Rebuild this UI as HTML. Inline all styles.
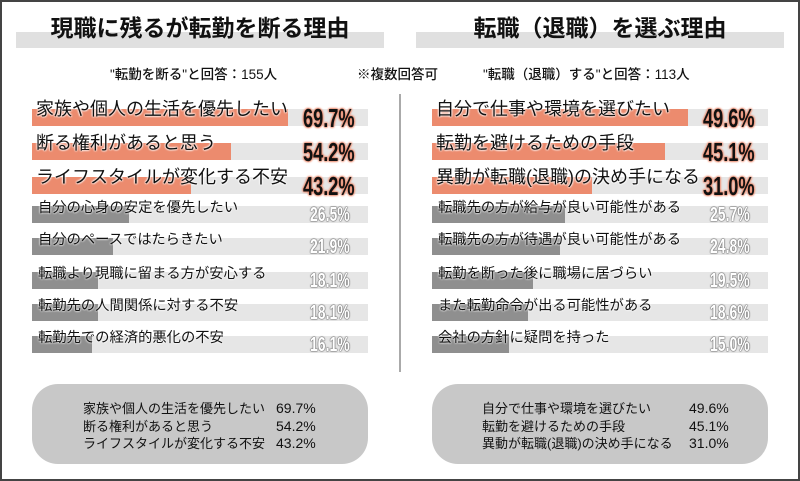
<!DOCTYPE html>
<html><head><meta charset="utf-8"><style>
*{margin:0;padding:0;box-sizing:border-box}
body{width:800px;height:481px;position:relative;background:#fff;overflow:hidden;font-family:"Liberation Sans","Noto Sans CJK JP",sans-serif;color:#222}
.frame{position:absolute;left:0;top:0;width:800px;height:481px;border:2px solid #444}
.a{position:absolute;white-space:nowrap}
.band{position:absolute;height:16px;background:#e0e0e0;top:32px}
.title{position:absolute;top:9px;font-size:23px;font-weight:bold;width:368px;text-align:center;color:#111}
.sub{font-size:13.5px;top:63px;color:#111;font-weight:500}
.bg{position:absolute;height:17px;background:#e6e6e6;width:336px}
.bar{position:absolute;height:17px}
.o{background:#ec8b6e}
.g{background:#8f8f8f}
.lo{font-size:18px;color:#111;text-shadow:0 0 2px #fff,0 0 2px #fff,0 0 2px #fff}
.lg{font-size:14.3px;color:#111;text-shadow:0 0 2px #fff,0 0 2px #fff}
.po{font-weight:bold;font-size:26px;color:#111;transform:scaleX(0.7);transform-origin:0 0;text-shadow:0 0 2px #ec8b6e,0 0 2px #ec8b6e,0 0 3px #ec8b6e,0 0 3px #ec8b6e}
.pg{font-weight:bold;font-size:20px;color:#fff;transform:scaleX(0.7);transform-origin:0 0;text-shadow:0 0 1px #666,0 0 1px #666,0 0 1px #666,0 0 2px #666}
.box{position:absolute;top:384px;width:336px;height:80px;background:#c8c8c8;border-radius:26px}
.bt{font-size:13px;color:#111;line-height:17.5px}
.vl{position:absolute;left:399px;top:94px;width:2px;height:278px;background:#aaa}
</style></head><body>
<div class="frame"></div>
<div class="band" style="left:16px;width:368px"></div>
<div class="band" style="left:416px;width:368px"></div>
<div class="title" style="left:16px">現職に残るが転勤を断る理由</div>
<div class="title" style="left:416px">転職（退職）を選ぶ理由</div>
<div class="a sub" style="left:110px">"転勤を断る"と回答：155人</div>
<div class="a sub" style="left:357px">※複数回答可</div>
<div class="a sub" style="left:483px">"転職（退職）する"と回答：113人</div>
<div class="vl"></div>

<div class="bg" style="left:32px;top:109px"></div><div class="bar o" style="left:32px;top:109px;width:256px"></div>
<div class="bg" style="left:32px;top:143px"></div><div class="bar o" style="left:32px;top:143px;width:199px"></div>
<div class="bg" style="left:32px;top:177px"></div><div class="bar o" style="left:32px;top:177px;width:159px"></div>
<div class="bg" style="left:32px;top:206px"></div><div class="bar g" style="left:32px;top:206px;width:97px"></div>
<div class="bg" style="left:32px;top:238px"></div><div class="bar g" style="left:32px;top:238px;width:81px"></div>
<div class="bg" style="left:32px;top:272px"></div><div class="bar g" style="left:32px;top:272px;width:66px"></div>
<div class="bg" style="left:32px;top:304px"></div><div class="bar g" style="left:32px;top:304px;width:66px"></div>
<div class="bg" style="left:32px;top:336px"></div><div class="bar g" style="left:32px;top:336px;width:60px"></div>
<div class="a lo" style="left:36px;top:95px">家族や個人の生活を優先したい</div>
<div class="a lo" style="left:36px;top:129px">断る権利があると思う</div>
<div class="a lo" style="left:36px;top:163px">ライフスタイルが変化する不安</div>
<div class="a lg" style="left:38px;top:196px">自分の心身の安定を優先したい</div>
<div class="a lg" style="left:38px;top:228px">自分のペースではたらきたい</div>
<div class="a lg" style="left:38px;top:262px">転職より現職に留まる方が安心する</div>
<div class="a lg" style="left:38px;top:294px">転勤先の人間関係に対する不安</div>
<div class="a lg" style="left:38px;top:326px">転勤先での経済的悪化の不安</div>
<div class="a po" style="left:303px;top:103px">69.7%</div>
<div class="a po" style="left:303px;top:137px">54.2%</div>
<div class="a po" style="left:303px;top:171px">43.2%</div>
<div class="a pg" style="left:310px;top:204px">26.5%</div>
<div class="a pg" style="left:310px;top:236px">21.9%</div>
<div class="a pg" style="left:310px;top:270px">18.1%</div>
<div class="a pg" style="left:310px;top:302px">18.1%</div>
<div class="a pg" style="left:310px;top:334px">16.1%</div>

<div class="bg" style="left:432px;top:109px"></div><div class="bar o" style="left:432px;top:109px;width:256px"></div>
<div class="bg" style="left:432px;top:143px"></div><div class="bar o" style="left:432px;top:143px;width:233px"></div>
<div class="bg" style="left:432px;top:177px"></div><div class="bar o" style="left:432px;top:177px;width:160px"></div>
<div class="bg" style="left:432px;top:206px"></div><div class="bar g" style="left:432px;top:206px;width:133px"></div>
<div class="bg" style="left:432px;top:238px"></div><div class="bar g" style="left:432px;top:238px;width:128px"></div>
<div class="bg" style="left:432px;top:272px"></div><div class="bar g" style="left:432px;top:272px;width:101px"></div>
<div class="bg" style="left:432px;top:304px"></div><div class="bar g" style="left:432px;top:304px;width:96px"></div>
<div class="bg" style="left:432px;top:336px"></div><div class="bar g" style="left:432px;top:336px;width:77px"></div>
<div class="a lo" style="left:436px;top:95px">自分で仕事や環境を選びたい</div>
<div class="a lo" style="left:436px;top:129px">転勤を避けるための手段</div>
<div class="a lo" style="left:436px;top:163px">異動が転職(退職)の決め手になる</div>
<div class="a lg" style="left:438px;top:196px">転職先の方が給与が良い可能性がある</div>
<div class="a lg" style="left:438px;top:228px">転職先の方が待遇が良い可能性がある</div>
<div class="a lg" style="left:438px;top:262px">転勤を断った後に職場に居づらい</div>
<div class="a lg" style="left:438px;top:294px">また転勤命令が出る可能性がある</div>
<div class="a lg" style="left:438px;top:326px">会社の方針に疑問を持った</div>
<div class="a po" style="left:703px;top:103px">49.6%</div>
<div class="a po" style="left:703px;top:137px">45.1%</div>
<div class="a po" style="left:703px;top:171px">31.0%</div>
<div class="a pg" style="left:710px;top:204px">25.7%</div>
<div class="a pg" style="left:710px;top:236px">24.8%</div>
<div class="a pg" style="left:710px;top:270px">19.5%</div>
<div class="a pg" style="left:710px;top:302px">18.6%</div>
<div class="a pg" style="left:710px;top:334px">15.0%</div>

<div class="box" style="left:32px"></div>
<div class="box" style="left:432px"></div>
<div class="a bt" style="left:83px;top:400px">家族や個人の生活を優先したい<br>断る権利があると思う<br>ライフスタイルが変化する不安</div>
<div class="a bt" style="left:276px;top:400px;font-size:14px">69.7%<br>54.2%<br>43.2%</div>
<div class="a bt" style="left:482px;top:400px">自分で仕事や環境を選びたい<br>転勤を避けるための手段<br>異動が転職(退職)の決め手になる</div>
<div class="a bt" style="left:689px;top:400px;font-size:14px">49.6%<br>45.1%<br>31.0%</div>
</body></html>
